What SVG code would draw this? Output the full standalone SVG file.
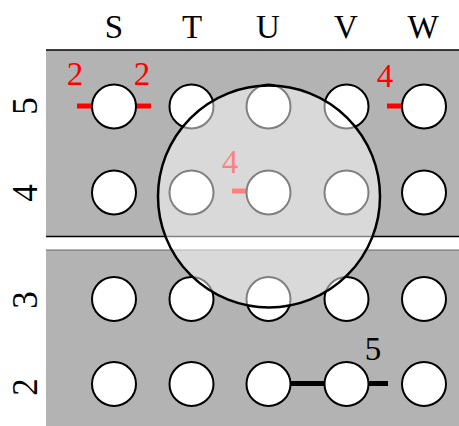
<svg xmlns="http://www.w3.org/2000/svg" width="459" height="426" viewBox="0 0 459 426">
<style>
.lbl{font-family:"Liberation Serif","Times New Roman",serif;font-size:33px;text-anchor:middle;fill:#000}
.red{font-family:"Liberation Serif","Times New Roman",serif;font-size:33px;text-anchor:middle;fill:#ff0000}
.row{font-size:35px}
.hole{fill:#fff;stroke:#000;stroke-width:2}
.tick{stroke:#ff0000;stroke-width:5}
.bar{stroke:#000;stroke-width:5}
</style>
<rect x="0" y="0" width="459" height="426" fill="#fff"/>
<g id="board">
<rect x="46" y="50" width="413" height="376" fill="#b3b3b3"/>
<line x1="46" y1="50" x2="459" y2="50" stroke="#000" stroke-width="1.5"/>
<rect x="46" y="237" width="413" height="13" fill="#fff"/>
<line x1="46" y1="236.5" x2="459" y2="236.5" stroke="#000" stroke-width="1.5"/>
<line x1="46" y1="250" x2="459" y2="250" stroke="#666" stroke-width="1"/>
</g>
<g id="col-labels">
<text class="lbl" x="114" y="38">S</text>
<text class="lbl" x="192" y="38">T</text>
<text class="lbl" x="268" y="38">U</text>
<text class="lbl" x="346" y="38">V</text>
<text class="lbl" x="423" y="38">W</text>
</g>
<g id="row-labels">
<text class="lbl row" transform="translate(37,106) rotate(-90)">5</text>
<text class="lbl row" transform="translate(37,193) rotate(-90)">4</text>
<text class="lbl row" transform="translate(37,300) rotate(-90)">3</text>
<text class="lbl row" transform="translate(37,387) rotate(-90)">2</text>
</g>
<g id="connectors">
<line class="tick" x1="77" y1="106" x2="96" y2="106"/>
<line class="tick" x1="131" y1="106" x2="151" y2="106"/>
<line class="tick" x1="387" y1="106" x2="406" y2="106"/>
<line class="tick" x1="232" y1="191" x2="250" y2="191"/>
<line class="bar" x1="268" y1="383.5" x2="388" y2="383.5"/>
</g>
<g id="holes">
<circle id="S5" class="hole" cx="114" cy="106.5" r="22"/>
<circle id="T5" class="hole" cx="191.5" cy="106.5" r="22"/>
<circle id="U5" class="hole" cx="268.5" cy="106.5" r="22"/>
<circle id="V5" class="hole" cx="346.5" cy="106.5" r="22"/>
<circle id="W5" class="hole" cx="424" cy="106.5" r="22"/>
<circle id="S4" class="hole" cx="114" cy="192.5" r="22"/>
<circle id="T4" class="hole" cx="191.5" cy="192.5" r="22"/>
<circle id="U4" class="hole" cx="268.5" cy="192.5" r="22"/>
<circle id="V4" class="hole" cx="346.5" cy="192.5" r="22"/>
<circle id="W4" class="hole" cx="424" cy="192.5" r="22"/>
<circle id="S3" class="hole" cx="114" cy="299" r="22"/>
<circle id="T3" class="hole" cx="191.5" cy="299" r="22"/>
<circle id="U3" class="hole" cx="268.5" cy="299" r="22"/>
<circle id="V3" class="hole" cx="346.5" cy="299" r="22"/>
<circle id="W3" class="hole" cx="424" cy="299" r="22"/>
<circle id="S2" class="hole" cx="114" cy="384" r="22"/>
<circle id="T2" class="hole" cx="191.5" cy="384" r="22"/>
<circle id="U2" class="hole" cx="268.5" cy="384" r="22"/>
<circle id="V2" class="hole" cx="346.5" cy="384" r="22"/>
<circle id="W2" class="hole" cx="424" cy="384" r="22"/>
</g>
<g id="numbers">
<text class="red" x="75" y="85">2</text>
<text class="red" x="142" y="85">2</text>
<text class="red" x="385" y="87">4</text>
<text class="red" x="230" y="173">4</text>
<text class="lbl" x="373" y="360">5</text>
</g>
<g id="lens">
<circle cx="269" cy="196.5" r="111" fill="#fff" fill-opacity="0.5" stroke="#000" stroke-width="2.5"/>
</g>
</svg>
